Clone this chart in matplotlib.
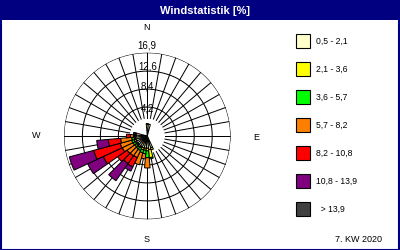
import numpy as np
import matplotlib
matplotlib.use("Agg")
import matplotlib.pyplot as plt
from matplotlib.patches import Rectangle

# ---------------- data ----------------
title = "Windstatistik [%]"
footer = "7. KW 2020"
ring_values = [4.2, 8.4, 12.6, 16.9]
ring_labels = ["4,2", "8,4", "12,6", "16,9"]
compass = ["N", "E", "S", "W"]
class_labels = ["0,5 - 2,1", "2,1 - 3,6", "3,6 - 5,7", "5,7 - 8,2",
                "8,2 - 10,8", "10,8 - 13,9", "  > 13,9"]
class_colors = ["#FFFFCC", "#FFFF00", "#00FF00", "#FF8000",
                "#FF0000", "#800080", "#404040"]

directions = [0, 10, 160, 170, 180, 190, 200, 210, 220, 230, 240, 250, 260, 270, 280]
c1 = [0.2, 0.2, 0.3, 0.6, 0.3, 0.3, 0.3, 0.2, 0.2, 0.2, 0.2, 0.2, 0.2, 0.1, 0.1]
c2 = [0.1, 0.0, 0.5, 1.9, 0.6, 0.5, 0.5, 0.4, 0.4, 0.3, 0.3, 0.4, 0.3, 0.2, 0.1]
c3 = [0.0, 0.0, 0.0, 0.3, 1.6, 0.8, 0.7, 0.6, 0.5, 0.5, 0.6, 0.6, 0.6, 0.3, 0.2]
c4 = [0.0, 0.0, 0.0, 0.0, 2.4, 1.2, 2.9, 1.8, 2.0, 2.2, 2.8, 2.8, 2.6, 0.8, 0.3]
c5 = [0.0, 0.0, 0.0, 0.0, 0.0, 0.0, 0.0, 2.4, 2.2, 2.7, 4.9, 6.4, 2.9, 0.9, 0.0]
c6 = [0.0, 0.0, 0.0, 0.0, 0.0, 0.0, 0.0, 1.1, 4.9, 0.0, 4.0, 5.9, 2.7, 0.0, 0.0]
c7 = [0.0, 0.0, 0.0, 0.0, 0.0, 0.0, 0.0, 0.0, 0.0, 0.0, 0.0, 0.0, 0.0, 0.0, 0.0]
classes = [c1, c2, c3, c4, c5, c6, c7]

# ---------------- layout ----------------
W, H = 400, 250
fig = plt.figure(figsize=(W / 100, H / 100), dpi=100)
fig.patch.set_facecolor("white")
navy = "#000080"
FONT = "Liberation Sans"

# frame and title bar
fig.patches.append(Rectangle((0, 1 - 20 / H), 1, 20 / H, transform=fig.transFigure,
                             facecolor=navy, edgecolor="none", zorder=0))
fig.patches.append(Rectangle((0.5 / W, 0.5 / H), 1 - 1.5 / W, 1 - 1.0 / H,
                             transform=fig.transFigure, facecolor="none",
                             edgecolor=navy, linewidth=1.5, zorder=5))
fig.text(205 / W, 1 - 10.5 / H, title, color="white", fontsize=8, fontweight="bold",
         family=FONT, ha="center", va="center")

cx, cy, R = 147.3, 136.0, 83.3
ax = fig.add_axes([(cx - R) / W, (H - cy - R) / H, 2 * R / W, 2 * R / H],
                  projection="polar")
ax.set_theta_zero_location("N")
ax.set_theta_direction(-1)
rmin = -2.57
hole = 1.63
ax.set_ylim(rmin, ring_values[-1])
ax.grid(False)
ax.set_xticks([])
ax.set_yticks([])
ax.spines["polar"].set_visible(False)
ax.set_facecolor("white")

LW = 0.72
# rings
tt = np.linspace(0, 2 * np.pi, 361)
for v in ring_values:
    ax.plot(tt, np.full_like(tt, v), color="black", lw=LW, zorder=1)
# spokes
for d in range(0, 360, 10):
    th = np.deg2rad(d)
    ax.plot([th, th], [hole, ring_values[-1]], color="black", lw=LW, zorder=1)

# ring labels
offsets_px = [-1.3, 2.6, 4.3, 7.7]
for v, lab, off in zip(ring_values, ring_labels, offsets_px):
    ax.annotate(lab, xy=(0, v), xytext=(0, off * 0.72), textcoords="offset points",
                ha="center", va="center", fontsize=7, family=FONT, zorder=4)

# bars
theta = np.deg2rad(directions)
width = np.deg2rad(10)
cum = np.zeros(len(directions))
for vals, col in zip(classes, class_colors):
    vals = np.asarray(vals, float)
    top = cum + vals
    mask = vals > 0
    b = np.where(cum == 0, rmin, cum)
    ax.bar(theta[mask], (top - b)[mask], bottom=b[mask], width=width, color=col,
           edgecolor="black", linewidth=LW, zorder=3, align="center")
    cum = top

# compass letters
for lab, (px, py) in zip(compass, [(147, 27), (256, 137), (147, 239), (36, 136)]):
    fig.text(px / W, 1 - py / H, lab, fontsize=6.5, family=FONT,
             ha="center", va="center")

# legend
box_y = [41, 69.3, 97.3, 125.3, 153.3, 181.3, 209.3]
for lab, col, by in zip(class_labels, class_colors, box_y):
    fig.patches.append(Rectangle((295.5 / W, 1 - (by + 7) / H), 14 / W, 14 / H,
                                 transform=fig.transFigure, facecolor=col,
                                 edgecolor="black", linewidth=0.8, zorder=3))
    fig.text(316.5 / W, 1 - by / H, lab, fontsize=6.2, family=FONT,
             ha="left", va="center")

fig.text(382 / W, 1 - 239 / H, footer, fontsize=6.5, family=FONT,
         ha="right", va="center")

fig.savefig("out.png", dpi=100)
